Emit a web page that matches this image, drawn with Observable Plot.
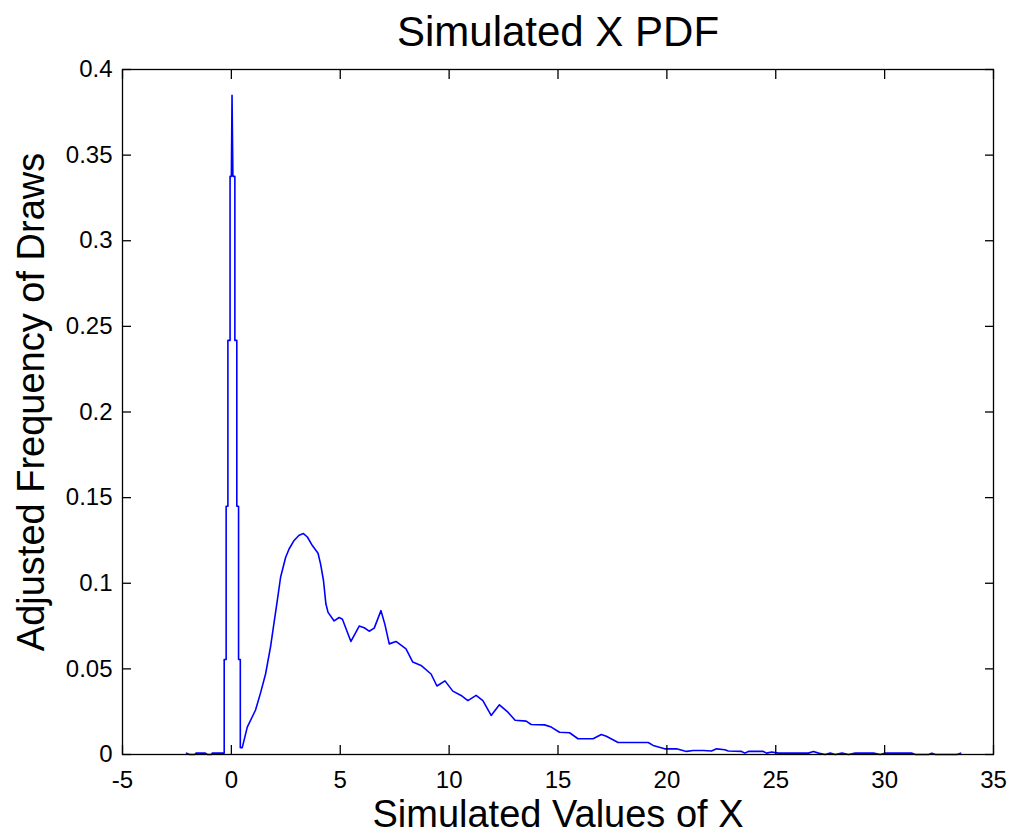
<!DOCTYPE html>
<html><head><meta charset="utf-8">
<script src="https://cdn.jsdelivr.net/npm/d3@7"></script>
<script src="https://cdn.jsdelivr.net/npm/@observablehq/plot@0.6"></script>
<style>body{margin:0;background:#fff;} #chart svg{display:block;}</style>
</head><body><div id="chart"></div>
<script>
const title = "Simulated X PDF";
const xLabel = "Simulated Values of X";
const yLabel = "Adjusted Frequency of Draws";
const xTicks = [-5, 0, 5, 10, 15, 20, 25, 30, 35];
const yTicks = [0, 0.05, 0.1, 0.15, 0.2, 0.25, 0.3, 0.35, 0.4];

const xValues = [
  -2.06, -1.92, -1.68, -1.62, -1.2, -1.1, -0.92, -0.88, -0.33,
  -0.33, -0.24, -0.24, -0.16, -0.16, -0.06, -0.06, 0.0, 0.03, 0.07, 0.16, 0.16, 0.25, 0.25, 0.33, 0.33, 0.41, 0.41,
  0.50, 0.73, 1.11, 1.34, 1.57, 1.80, 1.96, 2.11, 2.26, 2.49, 2.65, 2.88, 3.11, 3.31, 3.49, 3.72, 3.98, 4.10, 4.23, 4.34, 4.44,
  4.72, 4.95, 5.10, 5.49, 5.87, 6.10, 6.33, 6.56, 6.87, 7.05, 7.25, 7.56, 8.02, 8.33, 8.71, 9.17, 9.44, 9.81, 10.17, 10.55,
  10.86, 11.24, 11.55, 11.93, 12.31, 12.70, 13.03, 13.54, 13.77, 14.38, 14.69, 15.07, 15.53, 15.92, 16.61, 16.99, 17.22,
  17.76, 19.14, 19.37, 19.90, 20.44, 20.90, 21.21, 21.67, 22.05, 22.28, 22.66, 22.82, 23.43, 23.58, 23.74, 24.43, 24.58,
  24.81, 25.12, 26.50, 26.73, 26.96, 27.27, 27.50, 27.73, 28.04, 28.34, 28.65, 29.49, 29.80, 30.03, 31.26, 31.41, 32.02,
  32.17, 32.33, 33.33, 33.49
];
const yValues = [
  0.0008, 0, 0, 0.0008, 0.0008, 0, 0, 0.0008, 0.0008,
  0.0555, 0.0555, 0.145, 0.145, 0.2418, 0.2418, 0.3376, 0.3376, 0.385, 0.3376, 0.3376, 0.2418, 0.2418, 0.145, 0.145, 0.0555, 0.0555, 0.004,
  0.004, 0.016, 0.026, 0.036, 0.047, 0.063, 0.077, 0.090, 0.1035, 0.115, 0.120, 0.125, 0.128, 0.129, 0.127, 0.122, 0.1175, 0.111, 0.1016, 0.088, 0.083,
  0.078, 0.080, 0.079, 0.066, 0.075, 0.074, 0.072, 0.0738, 0.084, 0.076, 0.0646, 0.066, 0.0617, 0.054, 0.052, 0.047, 0.040, 0.043, 0.037, 0.0345,
  0.0315, 0.0345, 0.0315, 0.0228, 0.029, 0.0247, 0.020, 0.0195, 0.0175, 0.0173, 0.016, 0.013, 0.0127, 0.0092, 0.0092, 0.0117, 0.0107,
  0.007, 0.007, 0.0053, 0.0033, 0.0033, 0.0018, 0.0023, 0.0023, 0.002, 0.0033, 0.0028, 0.002, 0.0018, 0.0008, 0.0018, 0.0018, 0.0008,
  0.0015, 0.0008, 0.0008, 0.0018, 0.0008, 0, 0.0008, 0, 0.0008, 0, 0.0008, 0.0008, 0, 0.0008, 0.0008, 0, 0,
  0.0008, 0, 0, 0.0008
];

const points = xValues.map((x, i) => ({x, y: yValues[i]}));
const fmt = d => String(d);

const chart = Plot.plot({
  width: 1010,
  height: 835,
  marginLeft: 122,
  marginRight: 17,
  marginTop: 69,
  marginBottom: 81,
  style: {fontFamily: "'Liberation Sans', Arial, sans-serif", background: "#fff", color: "#000"},
  x: {domain: [-5, 35]},
  y: {domain: [0, 0.4]},
  marks: [
    Plot.line(points, {x: "x", y: "y", stroke: "#0000ff", strokeWidth: 1.6}),
    Plot.axisX(xTicks, {anchor: "bottom", tickSize: 9, dy: -9, fill: "none", strokeWidth: 1.3, label: null}),
    Plot.axisX(xTicks, {anchor: "top", tickSize: 9, dy: 9, fill: "none", strokeWidth: 1.3, label: null}),
    Plot.axisY(yTicks, {anchor: "left", tickSize: 9, dx: 9, fill: "none", strokeWidth: 1.3, label: null}),
    Plot.axisY(yTicks, {anchor: "right", tickSize: 9, dx: -9, fill: "none", strokeWidth: 1.3, label: null}),
    Plot.axisX(xTicks, {anchor: "bottom", tickSize: 0, tickPadding: 16, fontSize: 24, tickFormat: fmt, label: null}),
    Plot.axisY(yTicks, {anchor: "left", tickSize: 0, tickPadding: 10, fontSize: 24, tickFormat: fmt, label: null}),
    Plot.frame({stroke: "#000", strokeWidth: 1.3}),
    Plot.text([title], {frameAnchor: "top", textAnchor: "middle", lineAnchor: "middle", dy: -37, fontSize: 42}),
    Plot.text([xLabel], {frameAnchor: "bottom", textAnchor: "middle", lineAnchor: "middle", dy: 60, fontSize: 38}),
    Plot.text([yLabel], {frameAnchor: "left", textAnchor: "middle", lineAnchor: "middle", rotate: -90, dx: -91, dy: -10, fontSize: 38})
  ]
});
document.getElementById("chart").appendChild(chart);
</script>
</body></html>
